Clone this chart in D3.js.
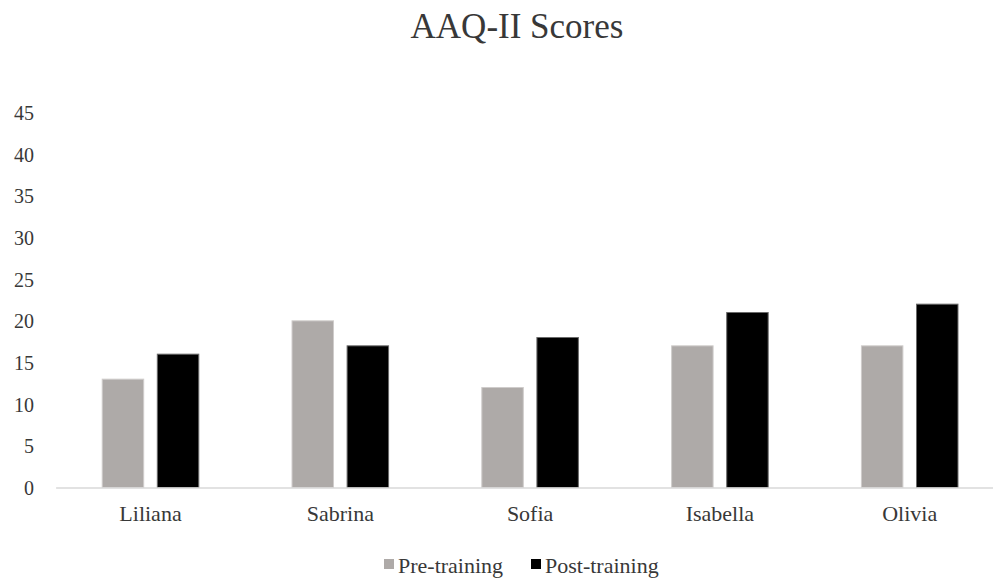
<!DOCTYPE html>
<html>
<head>
<meta charset="utf-8">
<script src="https://cdn.jsdelivr.net/npm/d3@7"></script>
<style>
  html, body { margin: 0; padding: 0; background: #fff; }
  svg { display: block; font-family: "Liberation Serif", "Times New Roman", serif; }
</style>
</head>
<body>
<svg id="chart" width="993" height="583"></svg>
<script>
// AAQ-II scores before and after training, per participant
const categories = ["Liliana", "Sabrina", "Sofia", "Isabella", "Olivia"];
const seriesNames = ["Pre-training", "Post-training"];
const preTraining = [13, 20, 12, 17, 17];
const postTraining = [16, 17, 18, 21, 22];
const yTicks = [0, 5, 10, 15, 20, 25, 30, 35, 40, 45];
const seriesColors = ["#aeaaa8", "#000000"];
const seriesStrokes = ["#cfcccb", "#6a6a6a"];
const textColor = "#383838";

const svg = d3.select("#chart");

const plotLeft = 55.6, plotRight = 1004.6;
const y = d3.scaleLinear().domain([0, 45]).range([487.5, 112.5]);
const x0 = d3.scaleBand().domain(categories).range([plotLeft, plotRight])
  .paddingInner(0.486).paddingOuter(0.243);
const x1 = d3.scaleBand().domain(seriesNames).range([0, x0.bandwidth()]).paddingInner(0.229);

const rows = categories.map((c, i) => ({
  category: c,
  values: [preTraining[i], postTraining[i]]
}));

// Title
svg.append("text")
  .attr("x", 517).attr("y", 38)
  .attr("text-anchor", "middle")
  .attr("font-size", 35)
  .attr("fill", textColor)
  .text("AAQ-II Scores");

// Y axis labels (no axis line)
const yAxis = d3.axisLeft(y).tickValues(yTicks).tickSize(0).tickPadding(0);
const yg = svg.append("g").attr("transform", "translate(34,0)").call(yAxis);
yg.select(".domain").remove();
yg.selectAll("text")
  .attr("dy", "0.35em")
  .attr("font-family", "Liberation Serif, Times New Roman, serif")
  .attr("font-size", 20)
  .attr("fill", textColor);

// Bars
const groups = svg.append("g").selectAll("g")
  .data(rows).join("g")
  .attr("transform", d => `translate(${x0(d.category)},0)`);

groups.selectAll("rect")
  .data(d => d.values.map((v, k) => ({ key: seriesNames[k], value: v, k })))
  .join("rect")
  .attr("x", d => x1(d.key) + 0.5)
  .attr("width", x1.bandwidth() - 1)
  .attr("y", d => y(d.value))
  .attr("height", d => y(0) - y(d.value))
  .attr("fill", d => seriesColors[d.k])
  .attr("stroke", d => seriesStrokes[d.k])
  .attr("stroke-width", 1);

// X axis baseline and labels
const xAxis = d3.axisBottom(x0).tickSize(0).tickPadding(18);
const xg = svg.append("g").attr("transform", `translate(0,${y(0)})`).call(xAxis);
xg.select(".domain").attr("stroke", "#d9d9d9").attr("stroke-width", 1.5);
xg.selectAll("text")
  .attr("font-family", "Liberation Serif, Times New Roman, serif")
  .attr("font-size", 22)
  .attr("fill", textColor);

// Legend
const legendItems = [
  { name: seriesNames[0], x: 384 },
  { name: seriesNames[1], x: 531 }
];
const legend = svg.append("g");
legendItems.forEach((it, k) => {
  legend.append("rect")
    .attr("x", it.x).attr("y", 559)
    .attr("width", 10).attr("height", 10)
    .attr("fill", seriesColors[k]);
  legend.append("text")
    .attr("x", it.x + 14).attr("y", 573)
    .attr("font-size", 22)
    .attr("fill", textColor)
    .text(it.name);
});
</script>
</body>
</html>
